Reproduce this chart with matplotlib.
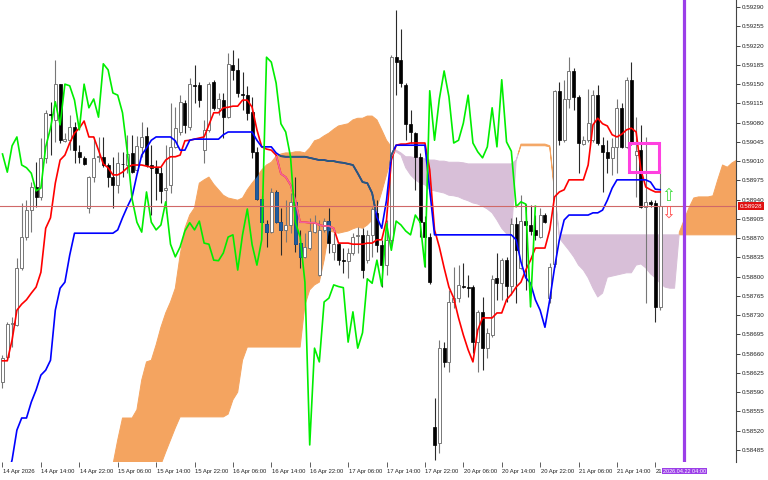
import numpy as np
import matplotlib
matplotlib.use("Agg")
import matplotlib.pyplot as plt
import matplotlib.transforms as mtransforms
from matplotlib.path import Path
from matplotlib.patches import Rectangle

# ---------------- data (prices in points, 1 point = 0.00001) ----------------
opens = [58608, 58654, 58714, 58712, 58816, 58872, 58921, 58963, 58945, 59016,
         59096, 59085, 59150, 59047, 59048, 59072, 59027, 59016, 58925, 58981,
         59018, 59018, 59003, 58981, 58967, 59005, 59003, 59025, 58994, 59036,
         59056, 59003, 58998, 58988, 58958, 58967, 59036, 59063, 59116, 59072,
         59148, 59148, 59030, 59067, 59154, 59107, 59121, 59090, 59185, 59176,
         59132, 59130, 59099, 59027, 58941, 58896, 58881, 58954, 58899, 58885,
         58894, 58936, 58861, 58836, 58852, 58881, 58803, 58885, 58901, 58845,
         58859, 58830, 58828, 58843, 58874, 58876, 58830, 58876, 58916, 58858,
         58821, 58867, 59199, 59194, 59148, 59078, 59061, 59018, 58899, 58872,
         58527, 58498, 58670, 58645, 58754, 58761, 58783, 58781, 58781, 58681,
         58736, 58670, 58694, 58798, 58788, 58830, 58783, 58896, 58816, 58901,
         58894, 58885, 58872, 58912, 58761, 58823, 59138, 59048, 59123, 59174,
         59127, 59041, 59048, 59048, 59130, 59039, 59027, 59016, 59036, 59107,
         59036, 59158, 59021, 59030, 58927, 58936, 58934, 58745]
highs = [58658, 58718, 58727, 58834, 58934, 58939, 58972, 59008, 59052, 59103,
         59118, 59194, 59150, 59061, 59094, 59081, 59039, 59019, 58983, 59054,
         59054, 59054, 59007, 59018, 59027, 59027, 59058, 59058, 59056, 59081,
         59072, 59039, 59012, 58999, 59039, 59116, 59108, 59130, 59121, 59161,
         59185, 59154, 59085, 59154, 59158, 59134, 59134, 59207, 59212, 59198,
         59172, 59147, 59127, 59036, 58947, 58903, 58961, 58958, 58925, 58939,
         58952, 58981, 58885, 58879, 58907, 58912, 58903, 58907, 58925, 58879,
         58861, 58852, 58852, 58879, 58890, 58888, 58885, 58927, 58939, 58867,
         58903, 59203, 59285, 59250, 59152, 59103, 59063, 59025, 58910, 58879,
         58579, 58685, 58681, 58776, 58818, 58821, 58825, 58803, 58785, 58739,
         58763, 58707, 58803, 58843, 58834, 58836, 58907, 58908, 58948, 58932,
         58930, 58912, 58925, 58916, 58825, 59139, 59154, 59158, 59199, 59179,
         59130, 59056, 59141, 59139, 59148, 59054, 59048, 59052, 59123, 59116,
         59163, 59190, 59090, 59076, 59054, 58939, 58939, 59001]
lows = [58598, 58652, 58672, 58710, 58812, 58867, 58881, 58927, 58939, 59007,
        59021, 59045, 59043, 59045, 59030, 59007, 59007, 59003, 58916, 58972,
        59008, 58999, 58963, 58925, 58952, 58981, 58988, 58988, 58988, 59018,
        58999, 58912, 58939, 58934, 58916, 58952, 59034, 59058, 59061, 59067,
        59116, 59108, 59007, 59063, 59103, 59094, 59052, 59088, 59158, 59127,
        59103, 59085, 59016, 58939, 58898, 58854, 58879, 58898, 58839, 58863,
        58879, 58845, 58816, 58834, 58848, 58879, 58801, 58881, 58843, 58830,
        58821, 58807, 58798, 58839, 58843, 58798, 58825, 58836, 58845, 58781,
        58803, 58858, 59130, 59145, 59048, 59043, 58958, 58872, 58818, 58787,
        58467, 58479, 58636, 58627, 58743, 58754, 58779, 58763, 58661, 58627,
        58630, 58652, 58690, 58758, 58758, 58754, 58767, 58752, 58814, 58776,
        58876, 58867, 58870, 58898, 58752, 58818, 59039, 59045, 59107, 59103,
        58988, 59039, 59045, 59045, 59039, 58954, 58988, 58985, 58988, 59034,
        59034, 59039, 58945, 58925, 58752, 58927, 58718, 58739]
closes = [58652, 58714, 58716, 58816, 58872, 58921, 58963, 58945, 59016, 59098,
          59094, 59150, 59048, 59050, 59072, 59030, 59018, 59005, 58981, 59016,
          59019, 59003, 58981, 58967, 59007, 59004, 59023, 58990, 59038, 59054,
          59003, 58998, 58988, 58956, 58961, 59036, 59070, 59118, 59076, 59150,
          59147, 59121, 59067, 59150, 59107, 59123, 59090, 59187, 59176, 59134,
          59130, 59098, 59027, 58941, 58899, 58881, 58954, 58899, 58885, 58894,
          58936, 58859, 58836, 58854, 58883, 58898, 58885, 58901, 58861, 58859,
          58830, 58829, 58843, 58872, 58876, 58812, 58876, 58923, 58858, 58821,
          58867, 59199, 59190, 59152, 59078, 59063, 59018, 58899, 58872, 58790,
          58494, 58670, 58645, 58754, 58761, 58785, 58782, 58780, 58681, 58736,
          58670, 58698, 58796, 58788, 58830, 58783, 58896, 58848, 58901, 58894,
          58883, 58876, 58912, 58899, 58818, 59138, 59048, 59123, 59174, 59127,
          59043, 59048, 59079, 59130, 59043, 59027, 59016, 59036, 59107, 59036,
          59158, 59045, 59028, 58927, 58936, 58932, 58745, 58928]
tenkan = [58647, 58647, 58685, 58739, 58750, 58758, 58770, 58781, 58808, 58888,
          58907, 58970, 59012, 59021, 59043, 59061, 59070, 59083, 59054, 59054,
          59030, 59005, 58998, 58985, 58985, 58990, 58998, 59003, 59003, 59003,
          59001, 58999, 58999, 58999, 59012, 59018, 59018, 59021, 59047, 59048,
          59050, 59052, 59054, 59076, 59098, 59098, 59107, 59108, 59110, 59110,
          59121, 59121, 59108, 59067, 59036, 59032, 59030, 59021, 58987, 58981,
          58967, 58939, 58899, 58899, 58898, 58898, 58894, 58892, 58892, 58888,
          58861, 58861, 58861, 58859, 58859, 58859, 58861, 58861, 58867, 58867,
          58903, 59012, 59039, 59041, 59041, 59043, 59043, 59043, 59043, 58994,
          58885, 58854, 58816, 58781, 58761, 58725, 58694, 58667, 58645, 58703,
          58725, 58725, 58725, 58734, 58734, 58758, 58768, 58781, 58790, 58812,
          58830, 58852, 58852, 58852, 58885, 58945, 58954, 58958, 58976, 58976,
          58976, 58976, 59003, 59076, 59088, 59078, 59074, 59058, 59054, 59059,
          59067, 59070, 59063, 58994, 58963, 58958, 58954, 58954]
kijun = [58403, 58434, 58467, 58521, 58543, 58543, 58572, 58594, 58621, 58630,
         58648, 58739, 58779, 58790, 58839, 58879, 58879, 58879, 58879, 58879,
         58879, 58879, 58879, 58879, 58885, 58907, 58927, 58945, 58985, 59021,
         59034, 59048, 59054, 59054, 59054, 59054, 59047, 59030, 59030, 59048,
         59050, 59050, 59050, 59050, 59050, 59050, 59058, 59063, 59063, 59063,
         59063, 59063, 59063, 59048, 59036, 59036, 59036, 59025, 59019, 59018,
         59018, 59018, 59018, 59018, 59016, 59014, 59012, 59012, 59010, 59010,
         59008, 59007, 59005, 59003, 58988, 58972, 58970, 58952, 58908, 58888,
         58939, 59021, 59039, 59039, 59039, 59039, 59039, 59039, 59039, 58958,
         58876, 58876, 58876, 58876, 58876, 58876, 58876, 58876, 58876, 58876,
         58876, 58876, 58876, 58876, 58876, 58876, 58876, 58867, 58827, 58798,
         58788, 58758, 58739, 58708, 58758, 58816, 58867, 58903, 58912, 58912,
         58912, 58912, 58912, 58916, 58916, 58921, 58939, 58961, 58976, 58976,
         58976, 58976, 58976, 58976, 58976, 58972, 58959, 58958]
SENKOU_FIRST_BAR = 23
senkou_a = [58458, 58503, 58543, 58543, 58543, 58558, 58612, 58645, 58648, 58676,
            58708, 58734, 58754, 58779, 58839, 58888, 58912, 58925, 58970, 58976,
            58981, 58968, 58958, 58948, 58943, 58941, 58939, 58943, 58958, 58970,
            58981, 58994, 59003, 59008, 59019, 59023, 59025, 59025, 59027, 59027,
            59025, 59034, 59047, 59050, 59056, 59061, 59068, 59074, 59076, 59078,
            59085, 59088, 59088, 59092, 59092, 59085, 59067, 59048, 59036, 59027,
            59021, 58998, 58985, 58976, 58970, 58967, 58958, 58956, 58954, 58952,
            58948, 58947, 58945, 58941, 58938, 58934, 58932, 58928, 58923, 58916,
            58903, 58888, 58878, 58874, 59010, 59041, 59041, 59041, 59041, 59041,
            59041, 59038, 58958, 58870, 58859, 58848, 58836, 58821, 58812, 58798,
            58779, 58763, 58770, 58799, 58801, 58803, 58805, 58807, 58807, 58821,
            58823, 58816, 58805, 58798, 58788, 58781, 58779, 58779, 58881, 58903,
            58925, 58943, 58945, 58945, 58945, 58947, 58976, 59003, 58999, 59007,
            59012]
senkou_b = [58403, 58403, 58403, 58403, 58403, 58403, 58403, 58403, 58403, 58430,
            58458, 58481, 58503, 58525, 58545, 58545, 58545, 58545, 58545, 58545,
            58545, 58545, 58545, 58545, 58550, 58576, 58590, 58648, 58672, 58672,
            58672, 58672, 58672, 58672, 58672, 58672, 58672, 58672, 58672, 58672,
            58748, 58776, 58785, 58790, 58830, 58883, 58881, 58879, 58881, 58883,
            58887, 58890, 58888, 58894, 58903, 58925, 58954, 58985, 59016, 59030,
            59025, 59018, 59018, 59016, 59016, 59014, 59012, 59012, 59010, 59010,
            59008, 59008, 59008, 59007, 59005, 59005, 59005, 59005, 59005, 59005,
            59005, 59005, 59005, 59005, 59012, 59038, 59038, 59038, 59038, 59038,
            59038, 59036, 58954, 58876, 58876, 58876, 58876, 58876, 58876, 58876,
            58876, 58876, 58876, 58876, 58876, 58876, 58876, 58876, 58876, 58876,
            58876, 58876, 58876, 58876, 58876, 58876, 58876, 58876, 58876, 58876,
            58876, 58876, 58876, 58876, 58876, 58876, 58876, 58876, 58876, 58876,
            58876]
CHIKOU_SHIFT = 26

time_label_bars = [0, 8, 16, 24, 32, 40, 48, 56, 64, 72, 80, 88, 96, 104, 112, 120, 128, 136]
# the last label is hidden behind the vertical-line time tag, only "21" shows
time_labels = ["14 Apr 2026", "14 Apr 14:00", "14 Apr 22:00", "15 Apr 06:00", "15 Apr 14:00",
               "15 Apr 22:00", "16 Apr 06:00", "16 Apr 14:00", "16 Apr 22:00", "17 Apr 06:00",
               "17 Apr 14:00", "17 Apr 22:00", "20 Apr 06:00", "20 Apr 14:00", "20 Apr 22:00",
               "21 Apr 06:00", "21 Apr 14:00", "21"]
price_ticks = [0.58485, 0.58520, 0.58555, 0.58590, 0.58625, 0.58660, 0.58695, 0.58730,
               0.58765, 0.58800, 0.58835, 0.58870, 0.58905, 0.58940, 0.58975, 0.59010,
               0.59045, 0.59080, 0.59115, 0.59150, 0.59185, 0.59220, 0.59255, 0.59290]
bid_price = 0.58928
vline_bar = 142
vline_label = "2026.04.22 04:00"
box_bar_start, box_bar_end = 130.5, 136.8
box_price_low, box_price_high = 0.58990, 0.59043
arrow_bar = 138.6
arrow_up_price = 0.58947
arrow_down_price = 0.58916

# ---------------- drawing ----------------
def P(a):
    return np.asarray(a, dtype=float) / 1e5

o, h, l, c = P(opens), P(highs), P(lows), P(closes)
x = np.arange(len(o))

SANDY = '#f4a460'
THISTLE = '#d8bfd8'
FONT = 'Liberation Sans'

fig = plt.figure(figsize=(7.68, 4.8), dpi=100)
fig.patch.set_facecolor('white')
ax = fig.add_axes([0, 18 / 480, 736 / 768, 462 / 480])
ax.set_facecolor('white')
ax.set_xlim(-0.52, 152.8)
ax.set_ylim(0.58463, 0.59303)

# Ichimoku cloud
xs = np.arange(SENKOU_FIRST_BAR, SENKOU_FIRST_BAR + len(senkou_a))
sa, sb = P(senkou_a), P(senkou_b)
bull_cloud = ax.fill_between(xs, sa, sb, where=sa >= sb, interpolate=True,
                             facecolor=SANDY, edgecolor=SANDY, lw=0.7, zorder=1)
ax.fill_between(xs, sa, sb, where=sa < sb, interpolate=True,
                facecolor=THISTLE, edgecolor=THISTLE, lw=0.7, zorder=1)
cloud_path = Path.make_compound_path(*bull_cloud.get_paths())

# candles
up = c >= o
bw = 0.62
ax.vlines(x[up], l[up], h[up], color='#777777', lw=0.8, zorder=2)
ax.vlines(x[~up], l[~up], h[~up], color='#2a2a2a', lw=0.8, zorder=2)
ax.bar(x[up], c[up] - o[up], bottom=o[up], width=bw, facecolor='white',
       edgecolor='#777777', lw=0.7, zorder=3)
ax.bar(x[~up], o[~up] - c[~up], bottom=c[~up], width=bw, facecolor='black',
       edgecolor='black', lw=0.5, zorder=3)
bear_in = ax.bar(x[~up], o[~up] - c[~up], bottom=c[~up], width=bw, facecolor='#1f5b9e',
                 edgecolor='#1f5b9e', lw=0.5, zorder=3.1)
for r in bear_in:
    r.set_clip_path(cloud_path, ax.transData)

# lines
ax.plot(x, P(tenkan), color='#ff0000', lw=1.2, zorder=4)
tk_in, = ax.plot(x, P(tenkan), color='#f0649c', lw=1.2, zorder=4.1)
tk_in.set_clip_path(cloud_path, ax.transData)
ax.plot(x, P(kijun), color='#0000ff', lw=1.2, zorder=4)
kj_in, = ax.plot(x, P(kijun), color='#2b6070', lw=1.2, zorder=4.1)
kj_in.set_clip_path(cloud_path, ax.transData)
ax.plot(x[:-CHIKOU_SHIFT], c[CHIKOU_SHIFT:], color='#00ee00', lw=1.2, zorder=4.2)

# bid line, vertical line, objects
ax.axhline(bid_price, color='#d06868', lw=0.8, zorder=5)
ax.axvline(vline_bar, color='#9b3ee8', lw=2.3, zorder=6)
ax.add_patch(Rectangle((box_bar_start, box_price_low), box_bar_end - box_bar_start,
                       box_price_high - box_price_low, fill=False,
                       edgecolor='#ff40e0', lw=2.2, zorder=7))
ax.text(arrow_bar, arrow_up_price, '\u21e7', color='#44dd44', fontsize=12,
        family='DejaVu Sans', ha='center', va='center', zorder=7)
ax.text(arrow_bar, arrow_down_price, '\u21e9', color='#ff5050', fontsize=12,
        family='DejaVu Sans', ha='center', va='center', zorder=7)

# axes styling
for s in ['top', 'left', 'bottom']:
    ax.spines[s].set_visible(False)
ax.spines['right'].set_color('#444444')
ax.spines['right'].set_linewidth(0.8)

ax.yaxis.tick_right()
ax.set_yticks(price_ticks)
ax.set_yticklabels([f'{p:.5f}' for p in price_ticks])
ax.tick_params(axis='y', direction='out', length=3, width=0.6, pad=1.2,
               labelsize=4.5, colors='#222222')
for t in ax.get_yticklabels():
    t.set_family(FONT)

ax.set_xticks(time_label_bars)
ax.set_xticklabels([])
ax.tick_params(axis='x', direction='out', length=3.5, width=0.6, colors='#444444')

trans_x = mtransforms.blended_transform_factory(ax.transData, ax.transAxes)
for b, s in zip(time_label_bars, time_labels):
    ax.text(b + 0.1, -0.0195, s, transform=trans_x, ha='left', va='center',
            fontsize=4.2, family=FONT, color='#222222', clip_on=False)

ax.text(vline_bar + 0.1, -0.0195, vline_label, transform=trans_x, ha='center', va='center',
        fontsize=4.0, family=FONT, color='white', clip_on=False, zorder=10,
        bbox=dict(boxstyle='square,pad=0.15', facecolor='#9b3ee8', edgecolor='none'))

trans_y = mtransforms.blended_transform_factory(ax.transAxes, ax.transData)
ax.text(1.0 + 4 / 736, bid_price, f'{bid_price:.5f}', transform=trans_y, ha='left',
        va='center', fontsize=4.5, family=FONT, color='white', clip_on=False, zorder=10,
        bbox=dict(boxstyle='square,pad=0.25', facecolor='#e01010', edgecolor='none'))

fig.savefig('out.png', dpi=100, facecolor='white')
